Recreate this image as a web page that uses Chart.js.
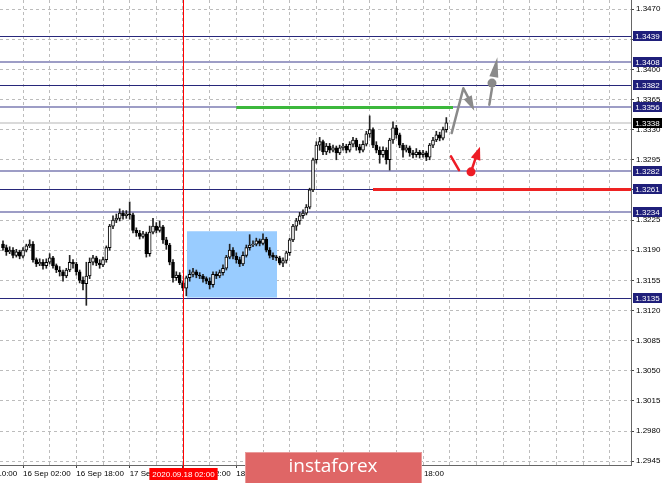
<!DOCTYPE html>
<html>
<head>
<meta charset="utf-8">
<script src="https://cdn.jsdelivr.net/npm/chart.js@4.4.0/dist/chart.umd.min.js"></script>
<style>
html, body { margin: 0; padding: 0; background: #fff; }
</style>
</head>
<body>
<canvas id="fxChart" width="665" height="483"></canvas>
<script>
// H1 candles, bar 0 = 16 Sep 02:00
var firstBar = -6;
var opens = [
    1.3197, 1.3193, 1.3188, 1.3190, 1.3184, 1.3188, 1.3183, 1.3190, 1.3195, 1.3197,
    1.3179, 1.3174, 1.3176, 1.3172, 1.3176, 1.3181, 1.3172, 1.3167, 1.3165, 1.3160,
    1.3167, 1.3176, 1.3174, 1.3165, 1.3155, 1.3151, 1.3160, 1.3176, 1.3181, 1.3175,
    1.3173, 1.3179, 1.3193, 1.3218, 1.3225, 1.3227, 1.3233, 1.3230, 1.3232, 1.3231,
    1.3213, 1.3210, 1.3206, 1.3209, 1.3186, 1.3211, 1.3218, 1.3213, 1.3217, 1.3202,
    1.3196, 1.3176, 1.3158, 1.3161, 1.3152, 1.3146, 1.3158, 1.3162, 1.3165, 1.3161,
    1.3160, 1.3157, 1.3154, 1.3150, 1.3162, 1.3160, 1.3164, 1.3169, 1.3182, 1.3190,
    1.3183, 1.3179, 1.3174, 1.3184, 1.3193, 1.3196, 1.3197, 1.3201, 1.3198, 1.3203,
    1.3190, 1.3184, 1.3182, 1.3181, 1.3175, 1.3178, 1.3187, 1.3202, 1.3218, 1.3224,
    1.3230, 1.3233, 1.3240, 1.3260, 1.3295, 1.3312, 1.3316, 1.3304, 1.3311, 1.3306,
    1.3309, 1.3303, 1.3309, 1.3311, 1.3306, 1.3313, 1.3318, 1.3310, 1.3306, 1.3313,
    1.3325, 1.3330, 1.3312, 1.3306, 1.3301, 1.3306, 1.3295, 1.3318, 1.3332, 1.3324,
    1.3312, 1.3306, 1.3309, 1.3303, 1.3301, 1.3304, 1.3301, 1.3303, 1.3298, 1.3312,
    1.3318, 1.3324, 1.3320, 1.3330
];
var highs = [
    1.3201, 1.3196, 1.3194, 1.3193, 1.3191, 1.3190, 1.3193, 1.3197, 1.3202, 1.3200,
    1.3181, 1.3180, 1.3179, 1.3180, 1.3186, 1.3183, 1.3174, 1.3171, 1.3167, 1.3169,
    1.3184, 1.3179, 1.3176, 1.3167, 1.3159, 1.3176, 1.3181, 1.3184, 1.3183, 1.3179,
    1.3182, 1.3195, 1.3220, 1.3230, 1.3232, 1.3238, 1.3236, 1.3236, 1.3246, 1.3233,
    1.3216, 1.3213, 1.3212, 1.3211, 1.3218, 1.3227, 1.3222, 1.3224, 1.3219, 1.3205,
    1.3198, 1.3179, 1.3165, 1.3164, 1.3154, 1.3160, 1.3167, 1.3169, 1.3167, 1.3164,
    1.3162, 1.3159, 1.3158, 1.3165, 1.3165, 1.3167, 1.3173, 1.3184, 1.3197, 1.3193,
    1.3187, 1.3182, 1.3188, 1.3196, 1.3208, 1.3201, 1.3204, 1.3203, 1.3209, 1.3205,
    1.3193, 1.3187, 1.3184, 1.3183, 1.3181, 1.3189, 1.3204, 1.3220, 1.3227, 1.3234,
    1.3237, 1.3243, 1.3262, 1.3297, 1.3316, 1.3321, 1.3318, 1.3314, 1.3314, 1.3312,
    1.3311, 1.3312, 1.3314, 1.3313, 1.3316, 1.3321, 1.3320, 1.3313, 1.3317, 1.3328,
    1.3346, 1.3332, 1.3316, 1.3310, 1.3310, 1.3309, 1.3320, 1.3339, 1.3335, 1.3326,
    1.3314, 1.3312, 1.3311, 1.3306, 1.3308, 1.3306, 1.3306, 1.3305, 1.3314, 1.3321,
    1.3328, 1.3327, 1.3333, 1.3344
];
var lows = [
    1.3190, 1.3184, 1.3186, 1.3181, 1.3182, 1.3180, 1.3181, 1.3188, 1.3193, 1.3176,
    1.3171, 1.3172, 1.3168, 1.3169, 1.3174, 1.3169, 1.3164, 1.3160, 1.3154, 1.3158,
    1.3165, 1.3169, 1.3161, 1.3152, 1.3144, 1.3126, 1.3157, 1.3173, 1.3172, 1.3169,
    1.3171, 1.3176, 1.3190, 1.3215, 1.3222, 1.3224, 1.3226, 1.3227, 1.3226, 1.3210,
    1.3206, 1.3203, 1.3204, 1.3182, 1.3183, 1.3209, 1.3210, 1.3211, 1.3198, 1.3191,
    1.3173, 1.3153, 1.3155, 1.3150, 1.3143, 1.3137, 1.3154, 1.3159, 1.3158, 1.3157,
    1.3153, 1.3151, 1.3145, 1.3147, 1.3157, 1.3158, 1.3161, 1.3167, 1.3180, 1.3180,
    1.3175, 1.3171, 1.3172, 1.3182, 1.3190, 1.3194, 1.3195, 1.3195, 1.3196, 1.3188,
    1.3181, 1.3179, 1.3178, 1.3173, 1.3171, 1.3175, 1.3184, 1.3200, 1.3213, 1.3220,
    1.3227, 1.3231, 1.3238, 1.3258, 1.3291, 1.3306, 1.3301, 1.3301, 1.3303, 1.3304,
    1.3295, 1.3301, 1.3306, 1.3303, 1.3304, 1.3310, 1.3306, 1.3303, 1.3304, 1.3311,
    1.3321, 1.3309, 1.3303, 1.3291, 1.3298, 1.3290, 1.3283, 1.3314, 1.3320, 1.3309,
    1.3298, 1.3304, 1.3299, 1.3297, 1.3298, 1.3297, 1.3298, 1.3294, 1.3295, 1.3309,
    1.3316, 1.3317, 1.3318, 1.3327
];
var closes = [
    1.3193, 1.3188, 1.3190, 1.3184, 1.3188, 1.3183, 1.3190, 1.3195, 1.3197, 1.3179,
    1.3174, 1.3176, 1.3172, 1.3176, 1.3181, 1.3172, 1.3167, 1.3165, 1.3160, 1.3167,
    1.3176, 1.3174, 1.3165, 1.3155, 1.3151, 1.3160, 1.3176, 1.3181, 1.3175, 1.3173,
    1.3179, 1.3193, 1.3218, 1.3225, 1.3227, 1.3233, 1.3230, 1.3232, 1.3231, 1.3213,
    1.3210, 1.3206, 1.3209, 1.3186, 1.3211, 1.3218, 1.3213, 1.3217, 1.3202, 1.3196,
    1.3176, 1.3158, 1.3161, 1.3152, 1.3146, 1.3158, 1.3162, 1.3165, 1.3161, 1.3160,
    1.3157, 1.3154, 1.3150, 1.3162, 1.3160, 1.3164, 1.3169, 1.3182, 1.3190, 1.3183,
    1.3179, 1.3174, 1.3184, 1.3193, 1.3196, 1.3197, 1.3201, 1.3198, 1.3203, 1.3190,
    1.3184, 1.3182, 1.3181, 1.3175, 1.3178, 1.3187, 1.3202, 1.3218, 1.3224, 1.3230,
    1.3233, 1.3240, 1.3260, 1.3295, 1.3312, 1.3316, 1.3304, 1.3311, 1.3306, 1.3309,
    1.3303, 1.3309, 1.3311, 1.3306, 1.3313, 1.3318, 1.3310, 1.3306, 1.3313, 1.3325,
    1.3330, 1.3312, 1.3306, 1.3301, 1.3306, 1.3295, 1.3318, 1.3332, 1.3324, 1.3312,
    1.3306, 1.3309, 1.3303, 1.3301, 1.3304, 1.3301, 1.3303, 1.3298, 1.3312, 1.3318,
    1.3324, 1.3320, 1.3330, 1.3338
];

var timeLabels = ['15 Sep 10:00', '16 Sep 02:00', '16 Sep 18:00', '17 Sep 10:00', '18 Sep 02:00',
    '18 Sep 18:00', '21 Sep 10:00', '22 Sep 02:00', '22 Sep 18:00'];
var labelBars = [-16, 0, 16, 32, 48, 64, 80, 96, 112];
var gridBars = [];
for (var g = -8; g <= 176; g += 8) gridBars.push(g);

var priceTicks = [1.2945, 1.2980, 1.3015, 1.3050, 1.3085, 1.3120, 1.3155, 1.3190,
    1.3225, 1.3260, 1.3295, 1.3330, 1.3365, 1.3400, 1.3435, 1.3470];

var strongLevels = [1.3439, 1.3382, 1.3261, 1.3135];
var weakLevels = [1.3408, 1.3356, 1.3282, 1.3234];
var currentPrice = 1.3338;
var targetLine = { price: 1.3356, from: 64, to: 129 };
var stopLine = { price: 1.3261, from: 105 };
var zone = { from: 49.2, to: 76.2, top: 1.3212, bottom: 1.3135 };
var markerBar = 48;
var markerText = '2020.09.18 02:00';

// projected moves as [bar, price]
var buyPath = [[128.6, 1.3326], [132.1, 1.3378], [135.4, 1.3352]];
var buyPath2 = [[139.9, 1.3359], [140.7, 1.3378]];
var buyDrop = [[140.7, 1.3384], [142.3, 1.3414]];
var sellStroke = [[128.4, 1.3299], [130.8, 1.3283]];
var sellArrow = [[134.4, 1.3281], [137.1, 1.3310]];

var FONT = '"Liberation Sans", Arial, sans-serif';

var bodies = [];
var wicks = [];
var bodyColors = [];
for (var i = 0; i < opens.length; i++) {
    bodies.push({ x: firstBar + i, y: [Math.min(opens[i], closes[i]), Math.max(opens[i], closes[i])] });
    wicks.push({ x: firstBar + i, y: [lows[i], highs[i]] });
    bodyColors.push(closes[i] >= opens[i] ? '#ffffff' : '#000000');
}

function hline(ctx, y, price, x1, x2, color, width) {
    var py = Math.round(y.getPixelForValue(price)) + (width % 2 ? 0.5 : 0);
    ctx.strokeStyle = color;
    ctx.lineWidth = width;
    ctx.beginPath();
    ctx.moveTo(x1, py);
    ctx.lineTo(x2, py);
    ctx.stroke();
}

function arrowHead(ctx, x1, y1, x2, y2, len, wid) {
    var a = Math.atan2(y2 - y1, x2 - x1);
    var bx = x2 - Math.cos(a) * len, by = y2 - Math.sin(a) * len;
    ctx.beginPath();
    ctx.moveTo(x2, y2);
    ctx.lineTo(bx + Math.sin(a) * wid / 2, by - Math.cos(a) * wid / 2);
    ctx.lineTo(bx - Math.sin(a) * wid / 2, by + Math.cos(a) * wid / 2);
    ctx.closePath();
    ctx.fill();
}

var overlay = {
    id: 'overlay',
    beforeDatasetsDraw: function (chart) {
        var ctx = chart.ctx, x = chart.scales.x, y = chart.scales.y, area = chart.chartArea;
        ctx.save();
        var zx1 = x.getPixelForValue(zone.from), zx2 = x.getPixelForValue(zone.to);
        var zy1 = y.getPixelForValue(zone.top), zy2 = y.getPixelForValue(zone.bottom);
        ctx.fillStyle = '#99ccff';
        ctx.fillRect(zx1, zy1, zx2 - zx1, zy2 - zy1);

        hline(ctx, y, currentPrice, area.left, area.right, '#dadada', 2);
        weakLevels.forEach(function (p) { hline(ctx, y, p, area.left, area.right, '#9d9dc6', 2); });
        strongLevels.forEach(function (p) { hline(ctx, y, p, area.left, area.right, '#27277a', 1); });
        hline(ctx, y, targetLine.price, x.getPixelForValue(targetLine.from), x.getPixelForValue(targetLine.to), '#3cb83c', 3);
        hline(ctx, y, stopLine.price, x.getPixelForValue(stopLine.from), area.right, '#ee2222', 3);
        ctx.restore();
    },
    afterDraw: function (chart) {
        var ctx = chart.ctx, x = chart.scales.x, y = chart.scales.y, area = chart.chartArea;
        function P(pt) { return [x.getPixelForValue(pt[0]), y.getPixelForValue(pt[1])]; }
        ctx.save();
        ctx.lineCap = 'round';
        ctx.lineJoin = 'round';

        // grey projection
        ctx.strokeStyle = '#8a8a8a';
        ctx.fillStyle = '#8a8a8a';
        ctx.lineWidth = 2.5;
        var b = buyPath.map(P);
        ctx.beginPath();
        ctx.moveTo(b[0][0], b[0][1]);
        ctx.lineTo(b[1][0], b[1][1]);
        ctx.lineTo(b[2][0] - 3, b[2][1] - 7);
        ctx.stroke();
        arrowHead(ctx, b[1][0], b[1][1], b[2][0], b[2][1], 15, 9);
        var b2 = buyPath2.map(P);
        ctx.beginPath();
        ctx.moveTo(b2[0][0], b2[0][1]);
        ctx.lineTo(b2[1][0], b2[1][1]);
        ctx.stroke();
        var d = buyDrop.map(P);
        ctx.beginPath();
        ctx.arc(d[0][0], d[0][1], 4.5, 0, Math.PI * 2);
        ctx.fill();
        arrowHead(ctx, d[0][0], d[0][1] + 4, d[1][0], d[1][1], 20, 9);

        // red projection
        ctx.strokeStyle = '#ee1c25';
        ctx.fillStyle = '#ee1c25';
        var s = sellStroke.map(P);
        ctx.beginPath();
        ctx.moveTo(s[0][0], s[0][1]);
        ctx.lineTo(s[1][0], s[1][1]);
        ctx.stroke();
        var r = sellArrow.map(P);
        ctx.beginPath();
        ctx.arc(r[0][0], r[0][1], 4.5, 0, Math.PI * 2);
        ctx.fill();
        ctx.beginPath();
        ctx.moveTo(r[0][0], r[0][1]);
        ctx.lineTo(r[1][0] - 3, r[1][1] + 7);
        ctx.stroke();
        arrowHead(ctx, r[0][0], r[0][1], r[1][0], r[1][1], 13, 10);

        // marker line + time box
        var mx = Math.round(x.getPixelForValue(markerBar)) + 0.5;
        ctx.strokeStyle = '#ff0000';
        ctx.lineWidth = 1;
        ctx.lineCap = 'butt';
        ctx.beginPath();
        ctx.moveTo(mx, 0);
        ctx.lineTo(mx, area.bottom + 3);
        ctx.stroke();
        ctx.font = '8px ' + FONT;
        ctx.textAlign = 'center';
        ctx.textBaseline = 'middle';
        var tw = ctx.measureText(markerText).width + 6;
        ctx.fillStyle = '#ff0000';
        ctx.fillRect(mx - tw / 2, area.bottom + 3, tw, 12);
        ctx.fillStyle = '#ffffff';
        ctx.fillText(markerText, mx, area.bottom + 9.5);

        // price boxes
        function box(p, fill) {
            var py = Math.round(y.getPixelForValue(p));
            ctx.fillStyle = fill;
            ctx.fillRect(area.right + 2, py - 5, 29, 10);
            ctx.fillStyle = '#ffffff';
            ctx.textAlign = 'center';
            ctx.fillText(p.toFixed(4), area.right + 16.5, py + 0.5);
        }
        strongLevels.concat(weakLevels).forEach(function (p) { box(p, '#1f1f7a'); });
        box(currentPrice, '#000000');

        // banner
        ctx.fillStyle = '#df6666';
        ctx.fillRect(245, 452, 177, 31);
        ctx.strokeStyle = 'rgba(255,255,255,0.35)';
        ctx.strokeRect(245.5, 452.5, 176, 31);
        ctx.fillStyle = '#ffffff';
        ctx.font = '19px "Open Sans", sans-serif';
        ctx.textAlign = 'center';
        ctx.fillText('instaforex', 333, 467);
        ctx.restore();
    }
};

var ctx = document.getElementById('fxChart').getContext('2d');
var chart = new Chart(ctx, {
    type: 'bar',
    data: {
        datasets: [{
            data: bodies,
            backgroundColor: bodyColors,
            borderColor: '#000000',
            borderWidth: 1,
            borderSkipped: false,
            barThickness: 3,
            minBarLength: 1,
            order: 0
        }, {
            data: wicks,
            backgroundColor: '#222222',
            borderWidth: 0,
            barThickness: 1,
            order: 1
        }]
    },
    options: {
        responsive: false,
        animation: false,
        grouped: false,
        layout: { padding: 0 },
        plugins: { legend: { display: false }, tooltip: { enabled: false } },
        scales: {
            x: {
                type: 'linear',
                min: -6.9,
                max: 182.4,
                offset: false,
                afterBuildTicks: function (scale) {
                    scale.ticks = gridBars.concat([-16]).map(function (v) { return { value: v }; });
                },
                afterFit: function (scale) {
                    scale.height = 18;
                    scale.paddingLeft = 0;
                    scale.paddingRight = 0;
                },
                ticks: {
                    autoSkip: false,
                    maxRotation: 0,
                    align: 'start',
                    padding: 1,
                    color: '#000',
                    font: { family: FONT, size: 8 },
                    callback: function (v) {
                        var k = labelBars.indexOf(v);
                        return k >= 0 ? timeLabels[k] : '';
                    }
                },
                grid: {
                    offset: false,
                    color: '#bcbcbc',
                    tickLength: 3,
                    tickColor: function (c) {
                        return c.tick && labelBars.indexOf(c.tick.value) >= 0 ? '#444' : 'rgba(0,0,0,0)';
                    }
                },
                border: { color: '#666', dash: [3, 3] }
            },
            y: {
                type: 'linear',
                position: 'right',
                min: 1.29406,
                max: 1.34805,
                afterBuildTicks: function (scale) {
                    scale.ticks = priceTicks.map(function (v) { return { value: v }; });
                },
                afterFit: function (scale) {
                    scale.width = 34;
                    scale.paddingTop = 0;
                    scale.paddingBottom = 0;
                },
                ticks: {
                    padding: 2,
                    color: '#000',
                    font: { family: FONT, size: 8 },
                    callback: function (v) { return v.toFixed(4); }
                },
                grid: { color: '#bcbcbc', tickLength: 3, tickColor: '#444' },
                border: { color: '#666', dash: [3, 3] }
            }
        }
    },
    plugins: [overlay]
});
</script>
</body>
</html>
